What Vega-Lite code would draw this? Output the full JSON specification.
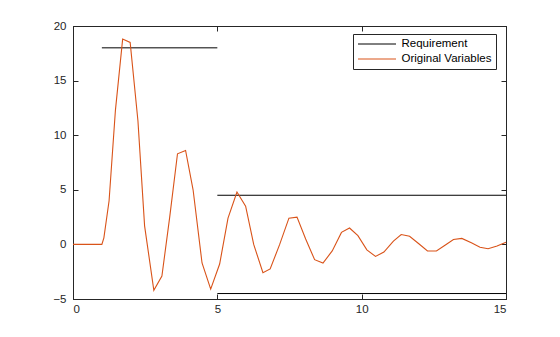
{
  "$schema": "https://vega.github.io/schema/vega-lite/v6.json",
  "width": 433,
  "height": 273,
  "padding": {"left": 73, "top": 26, "right": 54, "bottom": 38},
  "autosize": {"type": "none"},
  "background": "white",
  "config": {
    "view": {"stroke": "#262626", "strokeWidth": 1},
    "font": "Liberation Sans",
    "axis": {
      "grid": false,
      "domainColor": "#262626",
      "tickColor": "#262626",
      "labelColor": "#262626",
      "labelFont": "Liberation Sans",
      "labelFontSize": 11.5,
      "tickSize": -5,
      "title": null
    },
    "legend": {
      "orient": "none",
      "legendX": 280,
      "legendY": 8,
      "padding": 4.5,
      "rowPadding": 3,
      "clipHeight": 11,
      "strokeColor": "#262626",
      "fillColor": "white",
      "symbolType": "stroke",
      "symbolSize": 1444,
      "symbolStrokeWidth": 1,
      "labelFont": "Liberation Sans",
      "labelFontSize": 11.5,
      "labelColor": "#000000",
      "labelOffset": 5,
      "title": null
    }
  },
  "data": {
    "values": [
      {"t": 1, "y": 18, "series": "Requirement", "seg": "a"},
      {"t": 5, "y": 18, "series": "Requirement", "seg": "a"},
      {"t": 5, "y": 4.5, "series": "Requirement", "seg": "b"},
      {"t": 15, "y": 4.5, "series": "Requirement", "seg": "b"},
      {"t": 5, "y": -4.5, "series": "Requirement", "seg": "c"},
      {"t": 15, "y": -4.5, "series": "Requirement", "seg": "c"},
      {"t": 0, "y": 0, "series": "Original Variables", "seg": "o"},
      {"t": 1, "y": 0, "series": "Original Variables", "seg": "o"},
      {"t": 1.07, "y": 0.6, "series": "Original Variables", "seg": "o"},
      {"t": 1.25, "y": 4.0, "series": "Original Variables", "seg": "o"},
      {"t": 1.47, "y": 12.3, "series": "Original Variables", "seg": "o"},
      {"t": 1.72, "y": 18.8, "series": "Original Variables", "seg": "o"},
      {"t": 1.98, "y": 18.5, "series": "Original Variables", "seg": "o"},
      {"t": 2.25, "y": 11.3, "series": "Original Variables", "seg": "o"},
      {"t": 2.48, "y": 1.7, "series": "Original Variables", "seg": "o"},
      {"t": 2.8, "y": -4.2, "series": "Original Variables", "seg": "o"},
      {"t": 3.08, "y": -2.9, "series": "Original Variables", "seg": "o"},
      {"t": 3.35, "y": 2.5, "series": "Original Variables", "seg": "o"},
      {"t": 3.62, "y": 8.3, "series": "Original Variables", "seg": "o"},
      {"t": 3.9, "y": 8.6, "series": "Original Variables", "seg": "o"},
      {"t": 4.16, "y": 5.0, "series": "Original Variables", "seg": "o"},
      {"t": 4.47, "y": -1.7, "series": "Original Variables", "seg": "o"},
      {"t": 4.77, "y": -4.1, "series": "Original Variables", "seg": "o"},
      {"t": 5.08, "y": -1.8, "series": "Original Variables", "seg": "o"},
      {"t": 5.37, "y": 2.4, "series": "Original Variables", "seg": "o"},
      {"t": 5.68, "y": 4.8, "series": "Original Variables", "seg": "o"},
      {"t": 5.98, "y": 3.5, "series": "Original Variables", "seg": "o"},
      {"t": 6.26, "y": 0.0, "series": "Original Variables", "seg": "o"},
      {"t": 6.58, "y": -2.6, "series": "Original Variables", "seg": "o"},
      {"t": 6.83, "y": -2.25, "series": "Original Variables", "seg": "o"},
      {"t": 7.16, "y": 0.0, "series": "Original Variables", "seg": "o"},
      {"t": 7.48, "y": 2.4, "series": "Original Variables", "seg": "o"},
      {"t": 7.76, "y": 2.5, "series": "Original Variables", "seg": "o"},
      {"t": 8.06, "y": 0.5, "series": "Original Variables", "seg": "o"},
      {"t": 8.37, "y": -1.4, "series": "Original Variables", "seg": "o"},
      {"t": 8.66, "y": -1.7, "series": "Original Variables", "seg": "o"},
      {"t": 8.98, "y": -0.6, "series": "Original Variables", "seg": "o"},
      {"t": 9.3, "y": 1.1, "series": "Original Variables", "seg": "o"},
      {"t": 9.58, "y": 1.5, "series": "Original Variables", "seg": "o"},
      {"t": 9.87, "y": 0.8, "series": "Original Variables", "seg": "o"},
      {"t": 10.18, "y": -0.5, "series": "Original Variables", "seg": "o"},
      {"t": 10.48, "y": -1.1, "series": "Original Variables", "seg": "o"},
      {"t": 10.77, "y": -0.7, "series": "Original Variables", "seg": "o"},
      {"t": 11.1, "y": 0.3, "series": "Original Variables", "seg": "o"},
      {"t": 11.37, "y": 0.9, "series": "Original Variables", "seg": "o"},
      {"t": 11.66, "y": 0.75, "series": "Original Variables", "seg": "o"},
      {"t": 11.98, "y": 0.06, "series": "Original Variables", "seg": "o"},
      {"t": 12.28, "y": -0.6, "series": "Original Variables", "seg": "o"},
      {"t": 12.59, "y": -0.6, "series": "Original Variables", "seg": "o"},
      {"t": 12.9, "y": -0.06, "series": "Original Variables", "seg": "o"},
      {"t": 13.18, "y": 0.45, "series": "Original Variables", "seg": "o"},
      {"t": 13.47, "y": 0.55, "series": "Original Variables", "seg": "o"},
      {"t": 13.8, "y": 0.15, "series": "Original Variables", "seg": "o"},
      {"t": 14.1, "y": -0.27, "series": "Original Variables", "seg": "o"},
      {"t": 14.38, "y": -0.4, "series": "Original Variables", "seg": "o"},
      {"t": 14.69, "y": -0.15, "series": "Original Variables", "seg": "o"},
      {"t": 15, "y": 0.2, "series": "Original Variables", "seg": "o"}
    ]
  },
  "layer": [
    {
      "transform": [{"filter": "datum.series === 'Requirement'"}],
      "mark": {"type": "line", "strokeWidth": 1},
      "encoding": {
        "x": {"field": "t", "type": "quantitative", "scale": {"domain": [0, 15], "nice": false},
              "axis": {"orient": "bottom", "values": [0, 5, 10, 15], "labelPadding": 9}},
        "y": {"field": "y", "type": "quantitative", "scale": {"domain": [-5, 20], "nice": false, "zero": false},
              "axis": {"orient": "left", "values": [-5, 0, 5, 10, 15, 20], "labelPadding": 12}},
        "color": {"field": "series", "type": "nominal",
                  "scale": {"domain": ["Requirement", "Original Variables"], "range": ["#000000", "#D95319"]}},
        "detail": {"field": "seg"}
      }
    },
    {
      "transform": [{"filter": "datum.series === 'Original Variables'"}],
      "mark": {"type": "line", "strokeWidth": 1.1},
      "encoding": {
        "x": {"field": "t", "type": "quantitative", "scale": {"domain": [0, 15], "nice": false},
              "axis": {"orient": "top", "values": [0, 5, 10, 15], "labels": false}},
        "y": {"field": "y", "type": "quantitative", "scale": {"domain": [-5, 20], "nice": false, "zero": false},
              "axis": {"orient": "right", "values": [-5, 0, 5, 10, 15, 20], "labels": false}},
        "color": {"field": "series", "type": "nominal",
                  "scale": {"domain": ["Requirement", "Original Variables"], "range": ["#000000", "#D95319"]}},
        "detail": {"field": "seg"}
      }
    }
  ],
  "resolve": {"axis": {"x": "independent", "y": "independent"}}
}
